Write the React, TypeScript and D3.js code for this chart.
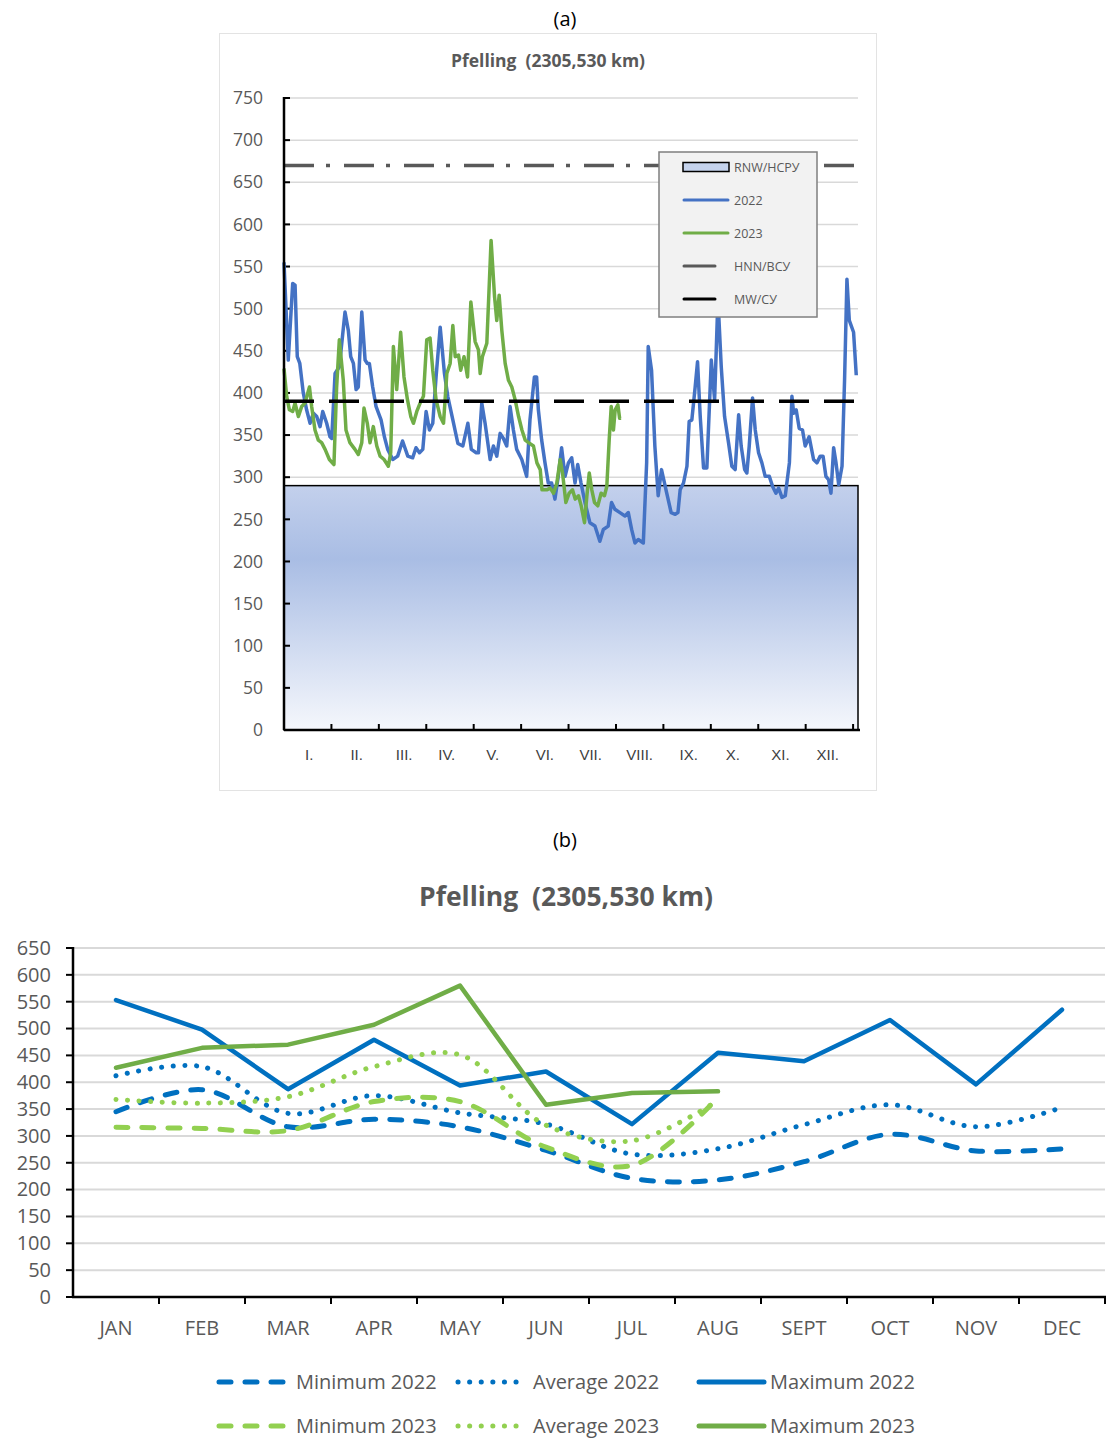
import * as React from "react";
import * as d3 from "d3";

// (a) daily water levels at Pfelling, cm (day of year -> level)
const days2022 = [0, 2.7, 5.5, 7, 8.4, 10, 12.2, 14.3, 16.5, 18.6, 20.7, 22.8, 24.5, 27, 29.1, 30.2, 32.3, 35, 38.6, 40.7, 42.2, 43.9, 45.6, 47, 49.2, 51.3, 52.7, 54, 56.1, 58.2, 61.4, 63.5, 65.6, 68.8, 71.9, 75, 78.3, 81.4, 83.5, 85.7, 87.8, 89.9, 92, 94.1, 96.2, 98.8, 101.5, 103.6, 106.8, 110, 113.1, 116.3, 118.5, 121.6, 123, 125.1, 127.2, 130.4, 132.5, 134.6, 136.7, 138.8, 140.9, 143, 145.1, 147.2, 150.4, 153.5, 155.6, 158.4, 159.8, 160.9, 163, 165.1, 167.2, 169.3, 171.4, 173.5, 175.6, 177.8, 179.9, 182, 184.1, 185.8, 187.9, 190.4, 193.5, 196.7, 199.8, 202, 205.1, 207.2, 209.3, 212.5, 215.7, 217.8, 219.9, 222, 224.1, 227.3, 229.4, 230.4, 232.5, 234.6, 236.7, 238.8, 242, 244.9, 247.5, 249.2, 250.6, 252.7, 254.9, 256.3, 258, 260.1, 261.6, 263.3, 265.4, 267.5, 270.3, 272.4, 274.5, 276.6, 278.7, 281.2, 283.3, 285.4, 287.6, 289.2, 291.4, 292.8, 294.3, 296.4, 298.1, 300.2, 302.3, 304.4, 307, 309.1, 311.2, 312.9, 315, 317.1, 319.7, 321.3, 322.4, 324, 325.9, 328, 329.7, 332.2, 335, 337.1, 339.2, 341, 342.8, 344.5, 346, 347.7, 349.2, 350.9, 353, 354.6, 356.1, 357.6, 360.3, 362];
const level2022 = [555, 439, 530, 528, 443, 435, 400, 380, 364, 376, 372, 360, 378, 364, 348, 346, 423, 431, 496, 474, 443, 435, 404, 407, 496, 439, 435, 435, 407, 384, 368, 348, 333, 321, 325, 343, 325, 323, 335, 329, 333, 378, 356, 364, 419, 478, 423, 396, 368, 340, 337, 364, 333, 329, 329, 388, 364, 321, 337, 325, 352, 346, 337, 384, 356, 333, 321, 301, 368, 419, 419, 380, 344, 317, 293, 293, 274, 301, 335, 301, 317, 323, 293, 315, 293, 270, 246, 242, 224, 238, 242, 270, 262, 258, 254, 258, 238, 222, 226, 222, 317, 455, 427, 337, 278, 309, 282, 258, 256, 258, 285, 293, 313, 366, 368, 407, 437, 372, 311, 311, 439, 392, 512, 431, 372, 341, 313, 309, 374, 337, 309, 305, 337, 394, 356, 329, 317, 301, 301, 289, 281, 287, 276, 278, 317, 396, 376, 380, 358, 356, 337, 348, 321, 317, 325, 325, 301, 297, 281, 335, 317, 291, 313, 415, 535, 486, 472, 421];

const days2023 = [0, 1.7, 3.4, 5.5, 7, 9.1, 11.2, 13.3, 16.1, 17.5, 19.6, 21.7, 23.8, 26, 28.7, 31.6, 33.3, 35, 37.5, 39.2, 41.7, 44.9, 47, 49.2, 50.6, 52.7, 54.4, 56.5, 58.7, 60.8, 63.3, 66, 67.5, 69.2, 71.3, 73.8, 75.9, 78.1, 80.2, 81.9, 84, 86.1, 88.2, 90.3, 92.4, 94.1, 96.2, 98.8, 100.9, 103, 105.1, 106.8, 108.3, 110.4, 111.8, 113.9, 116.1, 118.2, 120.9, 123, 124.1, 125.5, 128.3, 131, 133.2, 134.6, 136.1, 137.8, 139.9, 142, 144.1, 146.2, 148.4, 150.5, 152.6, 154.7, 157.8, 160, 162.1, 163.2, 166.2, 168.4, 170.5, 172.6, 174.7, 176.2, 178.3, 180.4, 182.5, 184.2, 186.3, 188, 190.1, 191.6, 193.1, 194.7, 196.4, 198.5, 200.6, 202.7, 204.2, 205.7, 207, 208.4, 209.5, 211.2, 212.3, 213.3];
const level2023 = [429, 396, 380, 378, 388, 372, 384, 388, 407, 384, 356, 344, 341, 333, 321, 315, 407, 463, 415, 356, 341, 333, 327, 341, 382, 364, 341, 360, 337, 325, 321, 313, 329, 455, 404, 472, 419, 392, 372, 364, 378, 388, 396, 463, 465, 427, 392, 372, 364, 423, 435, 480, 443, 445, 427, 443, 419, 508, 461, 451, 423, 443, 459, 581, 514, 486, 516, 474, 435, 415, 407, 392, 372, 356, 344, 341, 337, 317, 309, 285, 285, 287, 281, 293, 321, 305, 270, 281, 285, 274, 278, 266, 246, 278, 305, 285, 270, 266, 281, 278, 289, 344, 384, 356, 380, 386, 370, 370];

const rnwLevel = 290;
const hnnLevel = 670;
const mwLevel = 390;
const romanMonths = ["I.", "II.", "III.", "IV.", "V.", "VI.", "VII.", "VIII.", "IX.", "X.", "XI.", "XII."];
const romanLabelDay = [16, 46, 76, 103, 132, 165, 194, 225, 256, 284, 314, 344];
const legendA = ["RNW/НСРУ", "2022", "2023", "HNN/ВСУ", "MW/СУ"];

// (b) monthly minimum / average / maximum, cm
const months = ["JAN", "FEB", "MAR", "APR", "MAY", "JUN", "JUL", "AUG", "SEPT", "OCT", "NOV", "DEC"];
const min2022 = [345, 386, 317, 331, 317, 273, 221, 218, 252, 303, 272, 276];
const avg2022 = [412, 429, 342, 375, 343, 322, 266, 276, 321, 358, 317, 353];
const max2022 = [553, 498, 387, 479, 394, 420, 322, 455, 439, 516, 396, 535];
const min2023 = [316, 314, 310, 364, 364, 279, 245, 372];
const avg2023 = [368, 361, 373, 429, 451, 320, 291, 366];
const max2023 = [427, 464, 470, 507, 580, 358, 380, 383];

const TITLE = "Pfelling\u00A0\u00A0(2305,530 km)";
const FONT = "'Open Sans', 'Noto Sans', sans-serif";
const GREY = "#595959";

function PanelA() {
    const x = d3.scaleLinear().domain([0, 365]).range([284, 861]);
    const y = d3.scaleLinear().domain([0, 750]).range([730, 98]);
    const plotRight = 858;

    const line = d3.line<number>().curve(d3.curveLinear);
    const path2022 = line(days2022.map((d, i) => [x(d), y(level2022[i])]) as any);
    const path2023 = line(days2023.map((d, i) => [x(d), y(level2023[i])]) as any);

    const lx = 659, ly = 152;
    const rowY = (i: number) => ly + 15 + i * 33;

    return (
        <g fontFamily={FONT}>
            <rect x={219.5} y={33.5} width={657} height={757} fill="#fff" stroke="#e3e3e3" />
            <text x={548} y={62.5} textAnchor="middle" dominantBaseline="middle" fontWeight="bold" fontSize={17.5} fill={GREY}>
                {TITLE}
            </text>
            <defs>
                <linearGradient id="rnwGrad" x1="0" y1="0" x2="0" y2="1">
                    <stop offset="0" stopColor="#c3d0ec" />
                    <stop offset="0.3" stopColor="#a9bde4" />
                    <stop offset="1" stopColor="#f5f7fc" />
                </linearGradient>
            </defs>
            {d3.range(50, 751, 50).map(v => (
                <line key={v} x1={x(0)} x2={plotRight} y1={y(v)} y2={y(v)} stroke="#d9d9d9" strokeWidth={1.5} />
            ))}
            <rect x={x(0)} y={y(rnwLevel)} width={plotRight - x(0)} height={y(0) - y(rnwLevel)}
                fill="url(#rnwGrad)" stroke="#000" strokeWidth={1.5} />
            {d3.range(0, 751, 50).map(v => (
                <g key={v}>
                    <text x={263} y={y(v) + 1.5} textAnchor="end" dominantBaseline="middle" fontSize={17.5} fill={GREY}>{v}</text>
                    <line x1={x(0)} x2={x(0) + 6} y1={y(v)} y2={y(v)} stroke="#000" strokeWidth={2} />
                </g>
            ))}
            <line x1={x(0)} x2={plotRight} y1={y(hnnLevel)} y2={y(hnnLevel)} stroke={GREY} strokeWidth={3.5} strokeDasharray="30 12 4 14" />
            <path d={path2022 || ""} fill="none" stroke="#4472C4" strokeWidth={3.5} strokeLinejoin="round" />
            <path d={path2023 || ""} fill="none" stroke="#70AD47" strokeWidth={3.5} strokeLinejoin="round" />
            <line x1={x(0)} x2={plotRight} y1={y(mwLevel)} y2={y(mwLevel)} stroke="#000" strokeWidth={3.5} strokeDasharray="30 15" />
            <line x1={x(0)} x2={x(0)} y1={y(750) - 1} y2={y(0)} stroke="#000" strokeWidth={2.5} />
            <line x1={x(0)} x2={plotRight + 2} y1={y(0)} y2={y(0)} stroke="#000" strokeWidth={2.5} />
            {d3.range(30, 361, 30).map(d => (
                <line key={d} x1={x(d)} x2={x(d)} y1={y(0)} y2={y(0) - 6} stroke="#000" strokeWidth={2} />
            ))}
            {romanMonths.map((m, i) => (
                <text key={m} x={x(romanLabelDay[i])} y={756} textAnchor="middle" dominantBaseline="middle" fontSize={15} fill="#404040"
                    fontFamily="'Liberation Sans', Arial, sans-serif">{m}</text>
            ))}
            {/* legend */}
            <rect x={lx} y={ly} width={158} height={165} fill="#f2f2f2" stroke="#7f7f7f" strokeWidth={1.5} />
            <rect x={683} y={rowY(0) - 4.5} width={46} height={9} fill="#c5d3ed" stroke="#000" strokeWidth={1.5} />
            <line x1={684} x2={728} y1={rowY(1)} y2={rowY(1)} stroke="#4472C4" strokeWidth={3} strokeLinecap="round" />
            <line x1={684} x2={728} y1={rowY(2)} y2={rowY(2)} stroke="#70AD47" strokeWidth={3} strokeLinecap="round" />
            <line x1={684} x2={715} y1={rowY(3)} y2={rowY(3)} stroke={GREY} strokeWidth={3} strokeLinecap="round" />
            <line x1={684} x2={715} y1={rowY(4)} y2={rowY(4)} stroke="#000" strokeWidth={3} strokeLinecap="round" />
            {legendA.map((t, i) => (
                <text key={t} x={734} y={rowY(i) + 1.5} dominantBaseline="middle" fontSize={12.5} fill={GREY}>{t}</text>
            ))}
        </g>
    );
}

function PanelB() {
    const x = d3.scaleBand<string>().domain(months).range([73, 1105]).padding(0);
    const y = d3.scaleLinear().domain([0, 650]).range([1297, 948]);
    const cx = (i: number) => (x(months[i]) as number) + x.bandwidth() / 2;

    const straight = d3.line<number>().x((_, i) => cx(i)).y(v => y(v));
    const smooth = d3.line<number>().x((_, i) => cx(i)).y(v => y(v)).curve(d3.curveCatmullRom.alpha(0.5));

    const blue = "#0070C0";
    const lightGreen = "#92D050";
    const green = "#70AD47";
    const dash = "12 14";
    const dot = "0.1 11.5";

    const series = [
        { name: "Minimum 2022", values: min2022, color: blue, dash, smooth: true },
        { name: "Average 2022", values: avg2022, color: blue, dash: dot, smooth: true },
        { name: "Maximum 2022", values: max2022, color: blue, dash: "", smooth: false },
        { name: "Minimum 2023", values: min2023, color: lightGreen, dash, smooth: true },
        { name: "Average 2023", values: avg2023, color: lightGreen, dash: dot, smooth: true },
        { name: "Maximum 2023", values: max2023, color: green, dash: "", smooth: false },
    ];

    const legendSample = [[217, 287], [456, 525], [697, 766]];
    const legendText = [296, 533, 770];
    const legendRow = [1382, 1426];

    return (
        <g fontFamily={FONT}>
            <text x={566} y={899} textAnchor="middle" dominantBaseline="middle" fontWeight="bold" fontSize={26.5} fill={GREY}>
                {TITLE}
            </text>
            {d3.range(0, 651, 50).map(v => (
                <g key={v}>
                    {v > 0 && <line x1={73} x2={1105} y1={y(v)} y2={y(v)} stroke="#d9d9d9" strokeWidth={2} />}
                    <line x1={66} x2={73} y1={y(v)} y2={y(v)} stroke="#000" strokeWidth={2} />
                    <text x={51} y={y(v) + 1.5} textAnchor="end" dominantBaseline="middle" fontSize={20} fill={GREY}>{v}</text>
                </g>
            ))}
            <line x1={73} x2={73} y1={y(650) - 1} y2={y(0)} stroke="#000" strokeWidth={2.5} />
            <line x1={72} x2={1106} y1={y(0)} y2={y(0)} stroke="#000" strokeWidth={2.5} />
            {months.map((m, i) => (
                <g key={m}>
                    <line x1={(x(m) as number) + x.bandwidth()} x2={(x(m) as number) + x.bandwidth()} y1={y(0)} y2={y(0) + 7} stroke="#000" strokeWidth={2} />
                    <text x={cx(i)} y={1329.5} textAnchor="middle" dominantBaseline="middle" fontSize={20} fill={GREY}>{m}</text>
                </g>
            ))}
            {series.map(s => (
                <path key={s.name} d={(s.smooth ? smooth : straight)(s.values) || ""} fill="none" stroke={s.color}
                    strokeWidth={s.dash ? 5 : 4.5} strokeDasharray={s.dash || undefined}
                    strokeLinecap="round" strokeLinejoin="round" />
            ))}
            {series.map((s, i) => {
                const row = Math.floor(i / 3), col = i % 3;
                const [a, b] = legendSample[col];
                return (
                    <g key={s.name + "-lg"}>
                        <line x1={a + 2} x2={b - 2} y1={legendRow[row]} y2={legendRow[row]} stroke={s.color}
                            strokeWidth={5} strokeDasharray={s.dash || undefined} strokeLinecap="round" />
                        <text x={legendText[col]} y={legendRow[row] + 1.5} dominantBaseline="middle" fontSize={20} fill={GREY}>{s.name}</text>
                    </g>
                );
            })}
        </g>
    );
}

export default function App() {
    return (
        <svg width={1113} height={1450} style={{ position: "absolute", left: 0, top: 0, background: "#fff" }}>
            <text x={565} y={20.5} textAnchor="middle" dominantBaseline="middle" fontSize={20} fontFamily={FONT} fill="#000">(a)</text>
            <text x={565} y={841.5} textAnchor="middle" dominantBaseline="middle" fontSize={20} fontFamily={FONT} fill="#000">(b)</text>
            <PanelA />
            <PanelB />
        </svg>
    );
}
